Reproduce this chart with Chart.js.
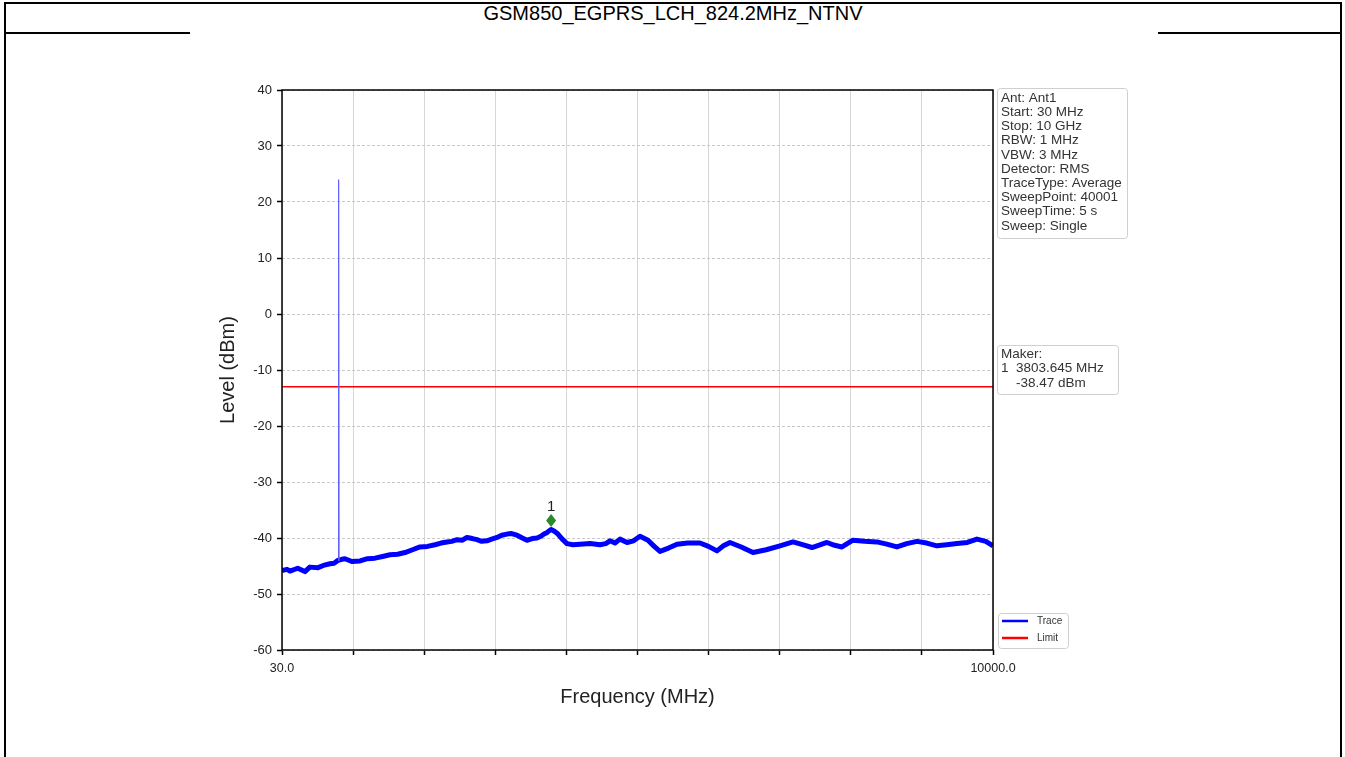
<!DOCTYPE html>
<html>
<head>
<meta charset="utf-8">
<script src="https://cdn.jsdelivr.net/npm/chart.js@4/dist/chart.umd.min.js"></script>
<style>
  body { margin: 0; background: #fff; font-family: "Liberation Sans", Arial, sans-serif; }
  #frame { position: absolute; left: 4px; top: 2px; width: 1334px; height: 800px;
           border: 2px solid #000; border-bottom: none; }
  #title { position: absolute; left: 0; top: 0; width: 100%; height: 28px;
           border-bottom: 2px solid #000; text-align: center; font-size: 20px;
           line-height: 19px; color: #000; }
  #wrap { position: absolute; left: 190px; top: 32px; width: 968px; height: 725px; background: #fff; }
</style>
</head>
<body>
<div id="frame"><div id="title">GSM850_EGPRS_LCH_824.2MHz_NTNV</div></div>
<div id="wrap"><canvas id="chart" width="968" height="725"></canvas></div>
<script>
const traceFreq = [30, 100, 142, 250, 352, 420, 535, 610, 703, 760, 815, 870, 913, 1010, 1124, 1230,
  1334, 1440, 1544, 1650, 1755, 1860, 1965, 2070, 2175, 2260, 2344, 2410, 2484, 2560, 2624, 2700,
  2764, 2830, 2904, 2970, 3045, 3110, 3185, 3250, 3325, 3400, 3465, 3540, 3606, 3660, 3704, 3750,
  3788, 3804, 3850, 3900, 3960, 4026, 4110, 4208, 4350, 4489, 4570, 4629, 4699, 4769, 4868, 4960,
  5050, 5162, 5250, 5330, 5450, 5569, 5720, 5891, 6010, 6130, 6220, 6312, 6470, 6635, 6820, 7013,
  7195, 7330, 7462, 7672, 7780, 7882, 8036, 8200, 8373, 8510, 8653, 8790, 8934, 9070, 9214, 9350,
  9495, 9640, 9775, 9900, 10000];
const traceLevel = [-45.8, -45.6, -45.9, -45.4, -46.0, -45.2, -45.3, -44.9, -44.6, -44.5, -44.0,
  -43.8, -43.7, -44.2, -44.1, -43.7, -43.6, -43.3, -43.0, -42.9, -42.6, -42.1, -41.6, -41.5, -41.2,
  -40.9, -40.7, -40.6, -40.3, -40.4, -39.9, -40.1, -40.3, -40.6, -40.5, -40.2, -39.9, -39.5, -39.3,
  -39.2, -39.5, -40.0, -40.4, -40.1, -40.0, -39.7, -39.3, -39.0, -38.6, -38.5, -38.8, -39.3, -40.2,
  -41.0, -41.2, -41.1, -41.0, -41.2, -41.0, -40.5, -40.9, -40.2, -40.8, -40.5, -39.7, -40.4, -41.5,
  -42.4, -41.8, -41.1, -40.9, -40.9, -41.5, -42.3, -41.4, -40.8, -41.6, -42.6, -42.1, -41.4, -40.7,
  -41.2, -41.7, -40.8, -41.3, -41.6, -40.4, -40.6, -40.7, -41.1, -41.6, -41.0, -40.6, -40.9, -41.4,
  -41.2, -41.0, -40.8, -40.2, -40.6, -41.4];

// carrier spike at 824.2 MHz
const spikeFreq = [818, 824.2, 830];
const spikeLevel = [-44.0, 24.0, -44.0];

const limitFreq = [30, 10000];
const limitLevel = [-13, -13];

const markerFreq = 3803.645;
const markerLevel = -38.47;

const xTicks = [30, 1027, 2024, 3021, 4018, 5015, 6012, 7009, 8006, 9003, 10000];
const yTicks = [-60, -50, -40, -30, -20, -10, 0, 10, 20, 30, 40];

const infoLines = ['Ant: Ant1', 'Start: 30 MHz', 'Stop: 10 GHz', 'RBW: 1 MHz', 'VBW: 3 MHz',
  'Detector: RMS', 'TraceType: Average', 'SweepPoint: 40001', 'SweepTime: 5 s', 'Sweep: Single'];
const makerLines = ['Maker:', '1  3803.645 MHz', '    -38.47 dBm'];

const pts = (xs, ys) => xs.map((x, i) => ({ x: x, y: ys[i] }));

function box(ctx, x, y, w, h) {
  ctx.save();
  ctx.fillStyle = 'rgba(255,255,255,0.9)';
  ctx.strokeStyle = '#cfcfcf';
  ctx.lineWidth = 1;
  ctx.beginPath();
  ctx.roundRect(x + 0.5, y + 0.5, w, h, 3);
  ctx.fill();
  ctx.stroke();
  ctx.restore();
}

const decorations = {
  id: 'decorations',
  afterDatasetsDraw(chart) {
    const { ctx, chartArea: a, scales } = chart;
    // frame round the plot
    ctx.save();
    ctx.strokeStyle = '#000';
    ctx.lineWidth = 1.5;
    ctx.strokeRect(a.left, a.top, a.right - a.left, a.bottom - a.top);

    // marker diamond + label
    const mx = scales.x.getPixelForValue(markerFreq);
    const my = scales.y.getPixelForValue(markerLevel) - 9;
    ctx.fillStyle = '#2a8a2a';
    ctx.beginPath();
    ctx.moveTo(mx, my - 6.5);
    ctx.lineTo(mx + 5, my);
    ctx.lineTo(mx, my + 6.5);
    ctx.lineTo(mx - 5, my);
    ctx.closePath();
    ctx.fill();
    ctx.fillStyle = '#222';
    ctx.font = '15px "Liberation Sans", Arial';
    ctx.textAlign = 'center';
    ctx.textBaseline = 'middle';
    ctx.fillText('1', mx, my - 14);

    // info box
    const bx = a.right + 4;
    ctx.font = '13.5px "Liberation Sans", Arial';
    ctx.textAlign = 'left';
    box(ctx, bx, 56, 130, 150);
    ctx.fillStyle = '#333';
    infoLines.forEach((t, i) => ctx.fillText(t, bx + 4, 66 + i * 14.2));

    // maker box
    box(ctx, bx, 313, 121, 49);
    makerLines.forEach((t, i) => ctx.fillText(t, bx + 4, 322 + i * 14.5));

    // legend
    box(ctx, bx + 1, 581, 70, 35);
    ctx.font = '10px "Liberation Sans", Arial';
    const items = chart.data.datasets.filter(d => d.label === 'Trace' || d.label === 'Limit');
    items.forEach((d, i) => {
      const ly = 589 + i * 17;
      ctx.strokeStyle = d.borderColor;
      ctx.lineWidth = 2.5;
      ctx.beginPath();
      ctx.moveTo(bx + 5, ly);
      ctx.lineTo(bx + 31, ly);
      ctx.stroke();
      ctx.fillStyle = '#333';
      ctx.fillText(d.label, bx + 40, ly);
    });
    ctx.restore();
  }
};

new Chart(document.getElementById('chart'), {
  type: 'line',
  data: {
    datasets: [
      { label: 'Spike', data: pts(spikeFreq, spikeLevel), borderColor: '#5c5cff', borderWidth: 1.2,
        pointRadius: 0, tension: 0 },
      { label: 'Trace', data: pts(traceFreq, traceLevel), borderColor: '#0000ff', borderWidth: 5,
        pointRadius: 0, tension: 0, borderJoinStyle: 'round' },
      { label: 'Limit', data: pts(limitFreq, limitLevel), borderColor: '#ff0000', borderWidth: 1.5,
        pointRadius: 0 }
    ]
  },
  options: {
    responsive: false,
    animation: false,
    layout: { padding: { left: 0, top: 58, right: 165, bottom: 0 } },
    plugins: { legend: { display: false }, tooltip: { enabled: false } },
    scales: {
      x: {
        type: 'linear', min: 30, max: 10000,
        afterFit: s => { s.height = 107; },
        afterBuildTicks: s => { s.ticks = xTicks.map(v => ({ value: v })); },
        ticks: {
          autoSkip: false, maxRotation: 0, padding: 6, color: '#222',
          font: { family: '"Liberation Sans", Arial', size: 12.5 },
          callback: (v, i) => (i === 0 || i === xTicks.length - 1) ? Number(v).toFixed(1) : ''
        },
        grid: { color: '#d6d6d6', lineWidth: 1, tickLength: 5, tickColor: '#000', tickWidth: 1.5 },
        border: { display: false },
        title: { display: true, text: 'Frequency (MHz)', color: '#222',
          font: { family: '"Liberation Sans", Arial', size: 20 }, padding: { bottom: 48 } }
      },
      y: {
        min: -60, max: 40,
        afterFit: s => { s.width = 92; },
        afterBuildTicks: s => { s.ticks = yTicks.map(v => ({ value: v })); },
        ticks: { padding: 5, color: '#222', font: { family: '"Liberation Sans", Arial', size: 13 } },
        grid: { color: '#c8c8c8', lineWidth: 1, tickLength: 5, tickColor: '#000', tickWidth: 1.5 },
        border: { display: false, dash: [3, 2] },
        title: { display: true, text: 'Level (dBm)', color: '#222',
          font: { family: '"Liberation Sans", Arial', size: 20 }, padding: { top: 26 } }
      }
    }
  },
  plugins: [decorations]
});
</script>
</body>
</html>
